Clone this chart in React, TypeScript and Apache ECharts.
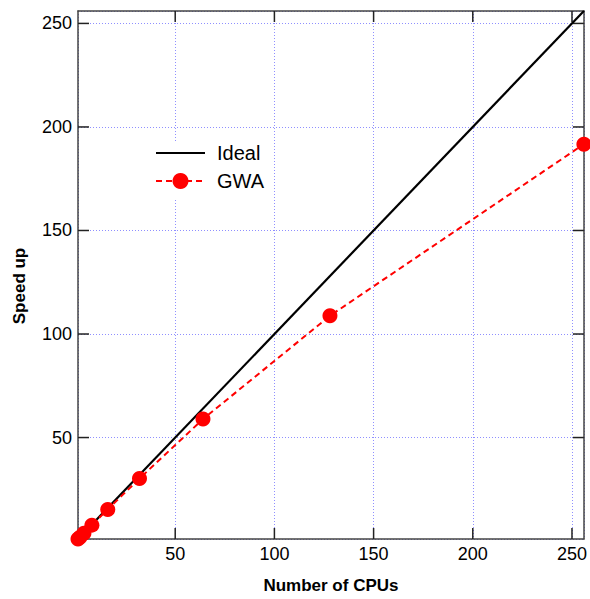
import React, { useEffect, useRef } from "react";
import * as echarts from "echarts";

const cpus = [1, 2, 4, 8, 16, 32, 64, 128, 256];
const gwaSpeedup = [1, 1.9, 3.8, 7.7, 15.3, 30.2, 58.9, 108.8, 191.7];
const idealCpus = [1, 256];
const idealSpeedup = [1, 256];
const tickValues = [50, 100, 150, 200, 250];

const FONT = "'Liberation Sans', Arial, Helvetica, sans-serif";

export default function App() {
  const ref = useRef<HTMLDivElement>(null);
  useEffect(() => {
    document.body.style.margin = "0";
    if (!ref.current) return;
    const chart = echarts.init(ref.current, undefined, { renderer: "svg" });
    const axisLine = { show: true, lineStyle: { color: "#444", width: 1.5 } };
    const split = {
      show: true,
      lineStyle: { color: "#8f8fff", width: 1, type: [1, 2] as any },
    };
    const label = {
      show: true,
      customValues: tickValues,
      fontSize: 18,
      color: "#000",
      fontFamily: FONT,
      margin: 6,
    };
    chart.setOption({
      animation: false,
      backgroundColor: "#fff",
      grid: { left: 78, right: 5, top: 11, bottom: 56 },
      legend: {
        show: true,
        orient: "vertical",
        left: 145,
        top: 143,
        itemWidth: 49,
        itemHeight: 20,
        itemGap: 8,
        padding: [0, 8, 9, 10],
        backgroundColor: "#fff",
        textStyle: {
          fontSize: 20,
          lineHeight: 20,
          fontFamily: FONT,
          color: "#000",
          padding: [0, 0, 0, 7],
        },
        data: [
          { name: "Ideal", itemStyle: { color: "rgba(0,0,0,0)", borderWidth: 0 } },
          { name: "GWA" },
        ],
      },
      xAxis: [
        {
          type: "value",
          min: 1,
          max: 256,
          position: "bottom",
          name: "Number of CPUs",
          nameLocation: "middle",
          nameGap: 38,
          nameTextStyle: { fontSize: 17, fontWeight: "bold", fontFamily: FONT, color: "#000" },
          axisLine,
          axisTick: { show: false },
          axisLabel: label,
          splitLine: split,
        },
        {
          type: "value",
          min: 1,
          max: 256,
          position: "top",
          axisLine,
          axisTick: { show: false },
          axisLabel: { show: false },
          splitLine: { show: false },
        },
      ],
      yAxis: [
        {
          type: "value",
          min: 1,
          max: 256,
          position: "left",
          name: "Speed up",
          nameLocation: "middle",
          nameGap: 50,
          nameTextStyle: {
            fontSize: 17,
            fontWeight: "bold",
            fontFamily: FONT,
            color: "#000",
            padding: [0, 22, 0, 0],
          },
          axisLine,
          axisTick: { show: false },
          axisLabel: label,
          splitLine: split,
        },
        {
          type: "value",
          min: 1,
          max: 256,
          position: "right",
          axisLine,
          axisTick: { show: false },
          axisLabel: { show: false },
          splitLine: { show: false },
        },
      ],
      series: [
        {
          name: "ticks",
          type: "custom",
          xAxisIndex: 0,
          yAxisIndex: 0,
          silent: true,
          clip: false,
          z: 1,
          data: tickValues.map((v) => [v, v]),
          renderItem: (params: any, api: any) => {
            const v = api.value(0);
            const cs = params.coordSys;
            const x = api.coord([v, 1])[0];
            const y = api.coord([1, v])[1];
            const L = 11;
            const style = { stroke: "#222", lineWidth: 1.5 };
            const bottom = cs.y + cs.height;
            const right = cs.x + cs.width;
            return {
              type: "group",
              children: [
                { type: "line", shape: { x1: x, y1: bottom, x2: x, y2: bottom - L }, style },
                { type: "line", shape: { x1: x, y1: cs.y, x2: x, y2: cs.y + L }, style },
                { type: "line", shape: { x1: cs.x, y1: y, x2: cs.x + L, y2: y }, style },
                { type: "line", shape: { x1: right, y1: y, x2: right - L, y2: y }, style },
              ],
            };
          },
        },
        {
          name: "Ideal",
          type: "line",
          data: idealCpus.map((c, i) => [c, idealSpeedup[i]]),
          symbol: "none",
          lineStyle: { color: "#000", width: 2.2 },
          itemStyle: { color: "#000" },
          z: 2,
        },
        {
          name: "GWA",
          type: "line",
          data: cpus.map((c, i) => [c, gwaSpeedup[i]]),
          symbol: "circle",
          symbolSize: 15,
          lineStyle: { color: "#ff0000", width: 2, type: [6, 4] },
          itemStyle: { color: "#ff0000" },
          z: 3,
        },
      ],
    });
    return () => chart.dispose();
  }, []);
  return <div ref={ref} style={{ width: 590, height: 599 }} />;
}
